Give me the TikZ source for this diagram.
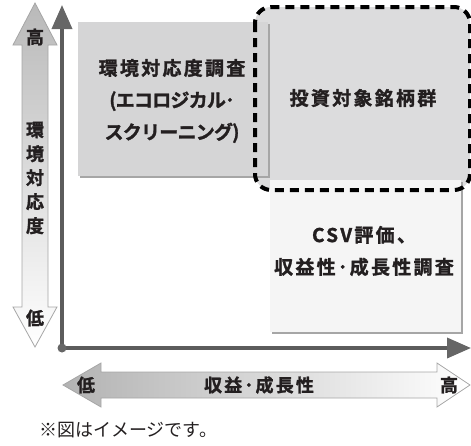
\documentclass[tikz,border=0pt]{standalone}
\usepackage{fontspec}
\usepackage{tikz}
\usetikzlibrary{arrows.meta,shadows}
\newfontfamily\jp{Noto Sans CJK JP}
\newfontfamily\jpb[LetterSpace=12,FakeBold=1.4]{Noto Sans CJK JP Bold}
\newcommand\tightkana[1]{{\addfontfeatures{LetterSpace=-4}#1}}

\definecolor{txtdark}{HTML}{231F20}
\definecolor{boxgray}{HTML}{D5D5D6}
\definecolor{pickgray}{HTML}{DCDCDD}
\definecolor{lightbox}{HTML}{F5F5F5}
\definecolor{axisgray}{HTML}{5C5C5C}

\tikzset{
  panel/.style={rectangle, inner sep=0pt,
    drop shadow={shadow xshift=1.6pt, shadow yshift=-1.6pt, fill=gray!70, opacity=1}},
  boxtext/.style={align=center, text=txtdark, inner sep=0pt,
    font=\jpb\fontsize{19}{32}\selectfont},
  axislabel/.style={text=txtdark, inner sep=0pt, font=\jpb\fontsize{18}{24}\selectfont},
  axisline/.style={line width=3.6pt, draw=axisgray,
    -{Triangle[length=24pt,width=20pt,fill=gray!80!black,color=gray!80!black]}}
}

\begin{document}
\begin{tikzpicture}[x=1pt,y=-1pt]
  \useasboundingbox (0,0) rectangle (471,445);

  % big shaded arrows (axis scales)
  \path[draw=gray!70, line width=0.8pt, top color=gray!55, bottom color=white]
    (35,3) -- (57,45) -- (48,45) -- (48,307) -- (57,307) -- (35,347)
    -- (13,307) -- (22,307) -- (22,45) -- (13,45) -- cycle;
  \path[draw=gray!70, line width=0.8pt, left color=gray!60, right color=white]
    (63,385) -- (101,363) -- (101,372) -- (437,372) -- (437,363) -- (470,385)
    -- (437,407) -- (437,398) -- (101,398) -- (101,407) -- cycle;

  % quadrants
  \fill[pickgray, rounded corners=16pt] (255,7) rectangle (470,190);
  \node[panel, fill=boxgray, minimum width=190pt, minimum height=154pt]
    (eco) at (173,99) {};
  \node[panel, fill=lightbox, minimum width=191pt, minimum height=152pt]
    (csv) at (365.5,256) {};
  \draw[line width=4pt, dash pattern=on 9pt off 6pt, rounded corners=16pt]
    (255,7) rectangle (470,190);
  \node[boxtext] (ecotext) at (172,101)
    {環境対応度調査\\\tightkana{(エコロジカル･}\\\tightkana{スクリーニング)}};
  \node[boxtext] (csvtext) at (364,251) {CSV評価、\\収益性･成長性調査};
  \node[boxtext] (pick) at (363,98) {投資対象銘柄群};

  % axes
  \coordinate (O) at (62,348);
  \coordinate (ytip) at (62,5);
  \coordinate (xtip) at (471,348);
  \draw[axisline] (O) -- (ytip);
  \draw[axisline] (O) -- (xtip);
  \fill[gray!80!black] (O) circle (4.5pt);

  % axis labels
  \node[axislabel] (yhigh) at (35,37) {高};
  \node[axislabel] (ylow) at (35,318) {低};
  \node[axislabel, align=center] (yname) at (35,178) {環\\境\\対\\応\\度};
  \node[axislabel] (xlow) at (86,385) {低};
  \node[axislabel] (xname) at (259,385) {収益･成長性};
  \node[axislabel] (xhigh) at (449,385) {高};

  % note
  \node[anchor=west, text=txtdark, inner sep=0pt,
    font=\jp\fontsize{18}{20}\selectfont] (note) at (39,430) {※図はイメージです。};
\end{tikzpicture}
\end{document}
